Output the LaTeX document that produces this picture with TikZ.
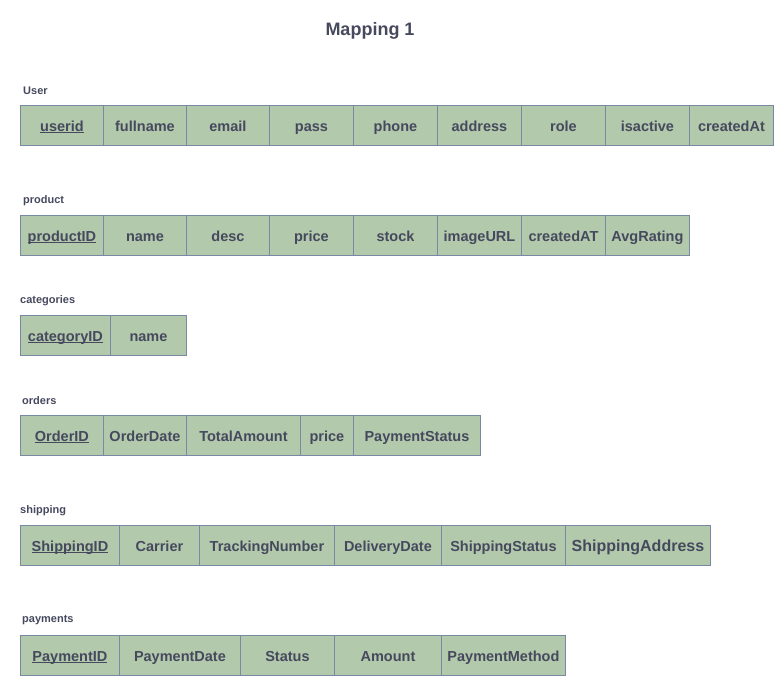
\documentclass[tikz,border=0pt]{standalone}
\usepackage{fontspec}
\setmainfont{Liberation Sans}
\definecolor{cellfill}{HTML}{B2C9AB}
\definecolor{cellline}{HTML}{788AA3}
\definecolor{txt}{HTML}{46495E}
\newcommand{\keyul}[1]{\setbox0\hbox{#1}\rlap{\rule[-2pt]{\wd0}{1pt}}\box0}
\newcommand{\cellrow}[3]{% prefix, top y, list of left/right/text
  \foreach \l/\r/\t [count=\i] in {#3} {
    \node[cellbox, minimum width={(\r-\l)*1pt}, anchor=north west] (#1\i) at (\l,#2) {\t};
  }}
\begin{document}
\begin{tikzpicture}[x=1pt,y=-1pt,
  cellbox/.style={draw=cellline, fill=cellfill, line width=0.9pt, minimum height=40pt, inner sep=0pt, text height=12.5pt, text depth=1pt, text=txt, font=\fontsize{14.5}{17}\selectfont\bfseries},
  tlabel/.style={anchor=west, text=txt, inner sep=0pt, font=\fontsize{11}{13}\selectfont\bfseries},
  title/.style={text=txt, inner sep=0pt, font=\fontsize{18}{21}\selectfont\bfseries}]
\useasboundingbox (0,0) rectangle (784,686);
\node[title] (title) at (370,31) {Mapping 1};
% User
\node[tlabel] (lUser) at (23,90.5) {User};
\cellrow{u}{105}{20/103/\keyul{userid}, 103/186/fullname, 186/269/email, 269/353/pass, 353/437/phone, 437/521/address, 521/605/role, 605/689/isactive, 689/773/createdAt}
% product
\node[tlabel] (lProduct) at (23,200.5) {product};
\cellrow{p}{215}{20/103/\keyul{productID}, 103/186/name, 186/269/desc, 269/353/price, 353/437/stock, 437/521/imageURL, 521/605/createdAT, 605/689/AvgRating}
% categories
\node[tlabel] (lCategories) at (20,300.5) {categories};
\cellrow{c}{315}{20/110/\keyul{categoryID}, 110/186/name}
% orders
\node[tlabel] (lOrders) at (22,400.5) {orders};
\cellrow{o}{415}{20/103/\keyul{OrderID}, 103/186/OrderDate, 186/300/TotalAmount, 300/353/price, 353/480/PaymentStatus}
% shipping
\node[tlabel] (lShipping) at (20,510.5) {shipping};
\cellrow{s}{525}{20/119/\keyul{ShippingID}, 119/199/Carrier, 199/334/TrackingNumber, 334/441/DeliveryDate, 441/565/ShippingStatus, 565/710/{\fontsize{16}{18}\selectfont ShippingAddress}}
% payments
\node[tlabel] (lPayments) at (22,620.5) {payments};
\cellrow{y}{635}{20/119/\keyul{PaymentID}, 119/240/PaymentDate, 240/334/Status, 334/441/Amount, 441/565/PaymentMethod}
\end{tikzpicture}
\end{document}
